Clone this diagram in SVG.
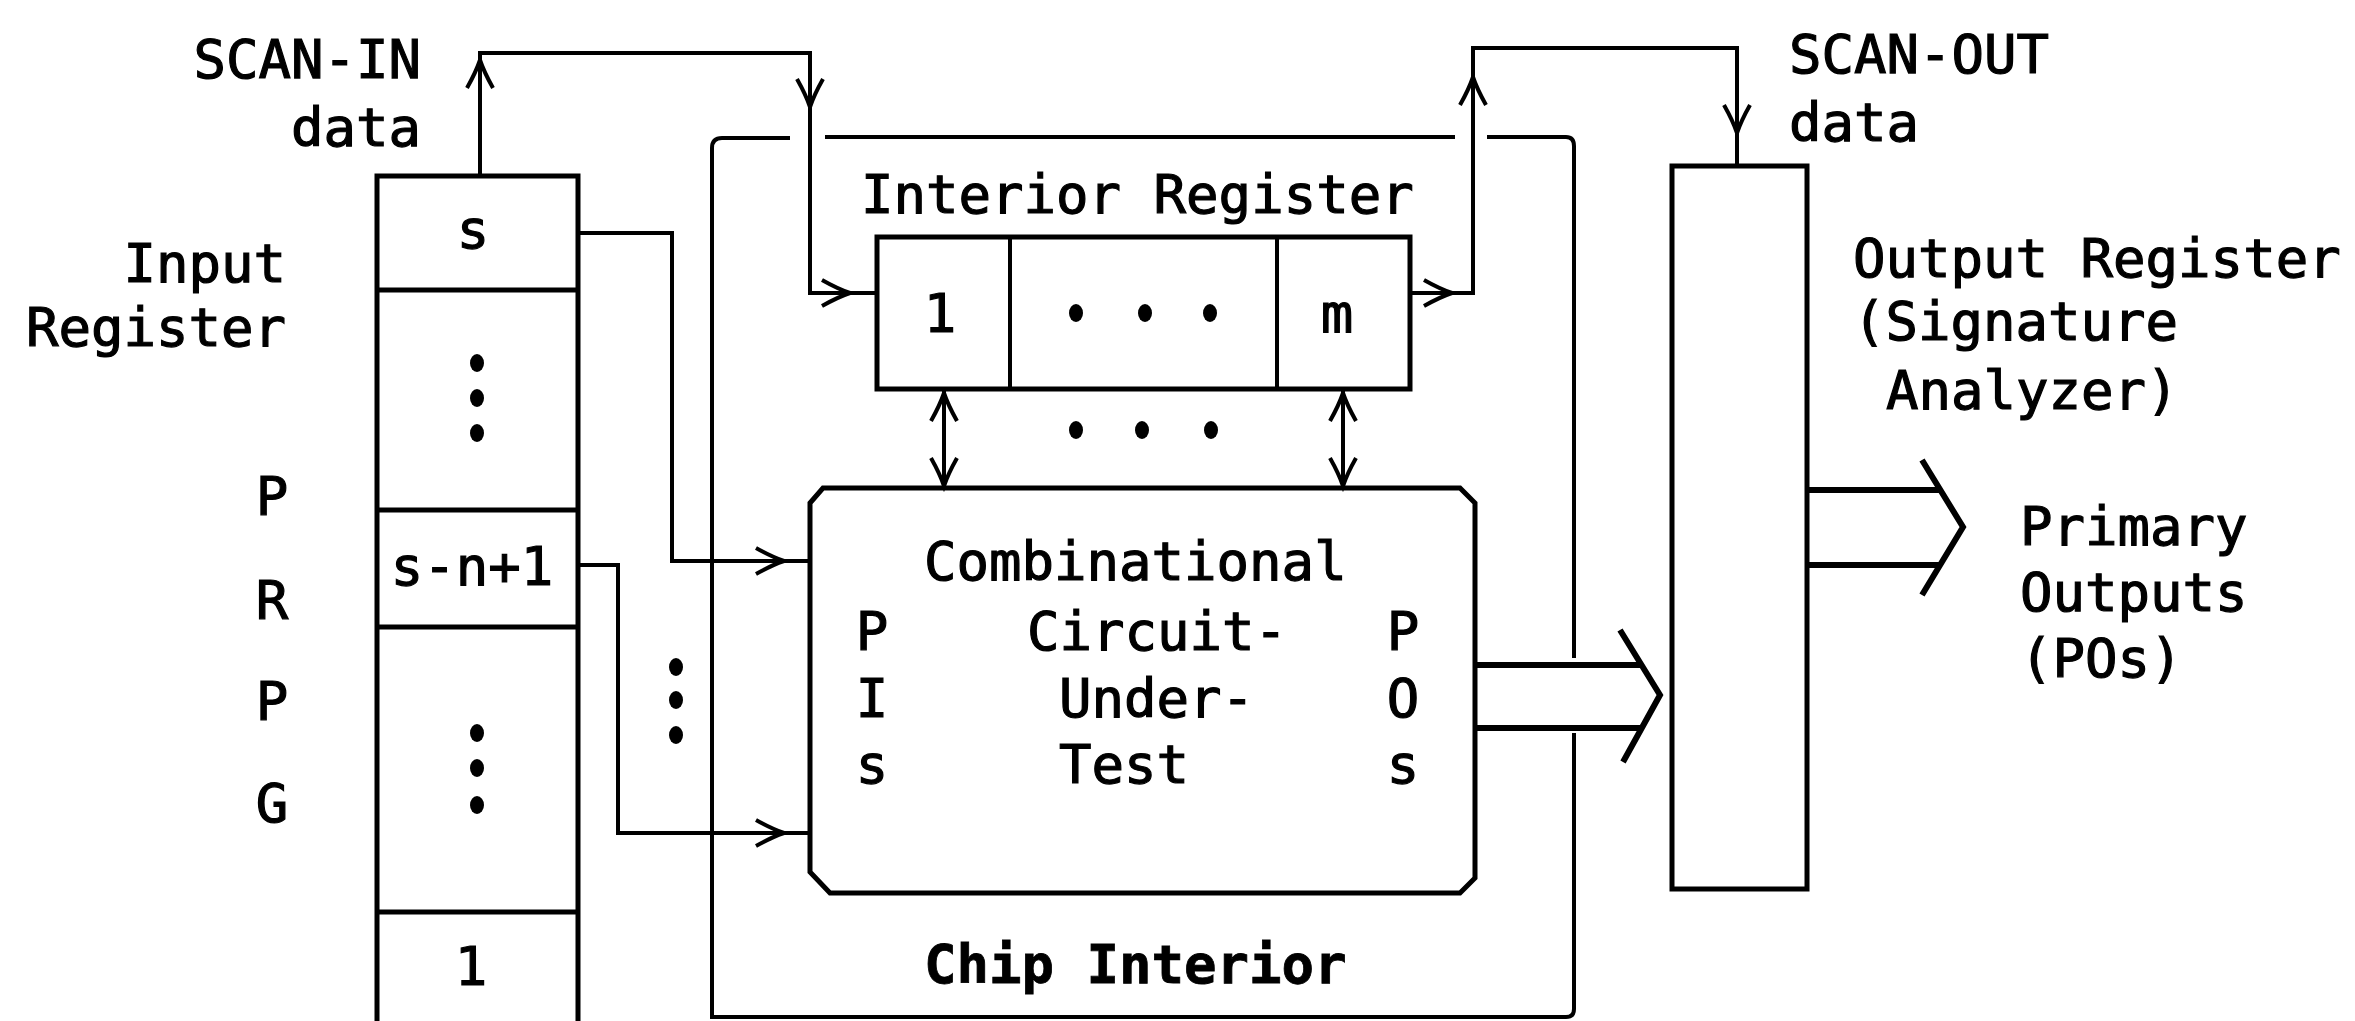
<svg xmlns="http://www.w3.org/2000/svg" xmlns:xlink="http://www.w3.org/1999/xlink" width="2355" height="1021" viewBox="0 0 2355 1021">
<style>
  .box { fill: none; stroke: #000; stroke-width: 5; stroke-linejoin: miter; }
  .thin { fill: none; stroke: #000; stroke-width: 4; }
  .wire { fill: none; stroke: #000; stroke-width: 4; stroke-linejoin: miter; }
  .bus { fill: none; stroke: #000; stroke-width: 6; }
  .t { font-family: "DejaVu Sans Mono", "Liberation Mono", monospace; font-size: 54px; fill: #000; stroke: #000; stroke-width: 1.2px; }
  .b { font-weight: bold; stroke-width: 0.8px; }
  .dot { fill: #000; }
</style>
<defs>
  <path id="ah" d="M-28,-13 Q-12,-4 0,0 Q-12,4 -28,13" fill="none" stroke="#000" stroke-width="4"/>
</defs>
<rect width="2355" height="1021" fill="#fff"/>

<g id="chip-interior">
  <path class="thin" d="M790,138 H722 Q712,138 712,148 V1017 H1566 Q1574,1017 1574,1009 V733 M1574,658 V146 Q1574,137 1566,137 H1487 M1455,137 H825"/>
  <text class="t b" x="924" y="983">Chip Interior</text>
</g>

<g id="input-register">
  <path class="box" d="M377,1021 V176 H578 V1021 M377,290 H578 M377,510 H578 M377,627 H578 M377,912 H578"/>
  <text class="t" x="473" y="248" text-anchor="middle">s</text>
  <ellipse class="dot" cx="477" cy="363" rx="7" ry="9"/>
  <ellipse class="dot" cx="477" cy="398" rx="7" ry="9"/>
  <ellipse class="dot" cx="477" cy="433" rx="7" ry="9"/>
  <text class="t" x="472" y="585" text-anchor="middle">s-n+1</text>
  <ellipse class="dot" cx="477" cy="733" rx="7" ry="9"/>
  <ellipse class="dot" cx="477" cy="768" rx="7" ry="9"/>
  <ellipse class="dot" cx="477" cy="805" rx="7" ry="9"/>
  <text class="t" x="471" y="985" text-anchor="middle">1</text>
  <text class="t" x="286" y="282" text-anchor="end">Input</text>
  <text class="t" x="286" y="346" text-anchor="end">Register</text>
  <text class="t" x="272" y="515" text-anchor="middle">P</text>
  <text class="t" x="272" y="619" text-anchor="middle">R</text>
  <text class="t" x="272" y="720" text-anchor="middle">P</text>
  <text class="t" x="272" y="822" text-anchor="middle">G</text>
</g>

<g id="interior-register">
  <rect class="box" x="877" y="237" width="533" height="152"/>
  <line class="thin" x1="1010" y1="237" x2="1010" y2="389"/>
  <line class="thin" x1="1277" y1="237" x2="1277" y2="389"/>
  <text class="t" x="940" y="332" text-anchor="middle">1</text>
  <ellipse class="dot" cx="1076" cy="313" rx="7" ry="9"/>
  <ellipse class="dot" cx="1145" cy="313" rx="7" ry="9"/>
  <ellipse class="dot" cx="1210" cy="313" rx="7" ry="9"/>
  <text class="t" x="1337" y="332" text-anchor="middle">m</text>
  <text class="t" x="861" y="213">Interior Register</text>
</g>

<g id="cut">
  <path class="box" d="M823,488 H1460 L1475,503 V878 L1460,893 H830 L810,872 V503 Z"/>
  <text class="t" x="924" y="580">Combinational</text>
  <text class="t" x="1027" y="650">Circuit-</text>
  <text class="t" x="1059" y="717">Under-</text>
  <text class="t" x="1059" y="783">Test</text>
  <text class="t" x="872" y="650" text-anchor="middle">P</text>
  <text class="t" x="872" y="717" text-anchor="middle">I</text>
  <text class="t" x="872" y="783" text-anchor="middle">s</text>
  <text class="t" x="1403" y="650" text-anchor="middle">P</text>
  <text class="t" x="1403" y="717" text-anchor="middle">O</text>
  <text class="t" x="1403" y="783" text-anchor="middle">s</text>
</g>

<g id="output-register">
  <rect class="box" x="1672" y="166" width="135" height="723"/>
  <text class="t" x="1853" y="277">Output Register</text>
  <text class="t" x="1853" y="340">(Signature</text>
  <text class="t" x="1886" y="409">Analyzer)</text>
</g>

<g id="scan-labels">
  <text class="t" x="421" y="78" text-anchor="end">SCAN-IN</text>
  <text class="t" x="421" y="146" text-anchor="end">data</text>
  <text class="t" x="1789" y="73">SCAN-OUT</text>
  <text class="t" x="1789" y="141">data</text>
</g>

<g id="primary-outputs">
  <text class="t" x="2020" y="545">Primary</text>
  <text class="t" x="2020" y="611">Outputs</text>
  <text class="t" x="2020" y="677">(POs)</text>
</g>

<g id="connectors">
  <!-- scan-in chain -->
  <path class="wire" d="M480,176 V53 H810 V293 H877"/>
  <use xlink:href="#ah" transform="translate(480,60) rotate(-90)"/>
  <use xlink:href="#ah" transform="translate(810,107) rotate(90)"/>
  <use xlink:href="#ah" transform="translate(850,293)"/>
  <!-- scan-out chain -->
  <path class="wire" d="M1410,293 H1473 V48 H1737 V166"/>
  <use xlink:href="#ah" transform="translate(1452,293)"/>
  <use xlink:href="#ah" transform="translate(1473,77) rotate(-90)"/>
  <use xlink:href="#ah" transform="translate(1737,133) rotate(90)"/>
  <!-- interior register <-> CUT -->
  <line class="wire" x1="944" y1="389" x2="944" y2="488"/>
  <use xlink:href="#ah" transform="translate(944,393) rotate(-90)"/>
  <use xlink:href="#ah" transform="translate(944,486) rotate(90)"/>
  <line class="wire" x1="1343" y1="389" x2="1343" y2="488"/>
  <use xlink:href="#ah" transform="translate(1343,393) rotate(-90)"/>
  <use xlink:href="#ah" transform="translate(1343,486) rotate(90)"/>
  <ellipse class="dot" cx="1076" cy="430" rx="7" ry="9"/>
  <ellipse class="dot" cx="1142" cy="430" rx="7" ry="9"/>
  <ellipse class="dot" cx="1211" cy="430" rx="7" ry="9"/>
  <!-- input register -> CUT PIs -->
  <path class="wire" d="M578,233 H672 V561 H810"/>
  <use xlink:href="#ah" transform="translate(784,561)"/>
  <path class="wire" d="M578,565 H618 V833 H810"/>
  <use xlink:href="#ah" transform="translate(784,833)"/>
  <ellipse class="dot" cx="676" cy="667" rx="7" ry="9"/>
  <ellipse class="dot" cx="676" cy="700" rx="7" ry="9"/>
  <ellipse class="dot" cx="676" cy="735" rx="7" ry="9"/>
  <!-- CUT POs bus -> output register -->
  <path class="bus" d="M1475,665 H1642 M1475,728 H1642"/>
  <path class="bus" d="M1620,630 L1660,695 L1623,762" stroke-linejoin="miter"/>
  <!-- output register -> primary outputs bus -->
  <path class="bus" d="M1807,490 H1940 M1807,565 H1940"/>
  <path class="bus" d="M1922,460 L1963,527 L1922,595"/>
</g>
</svg>
